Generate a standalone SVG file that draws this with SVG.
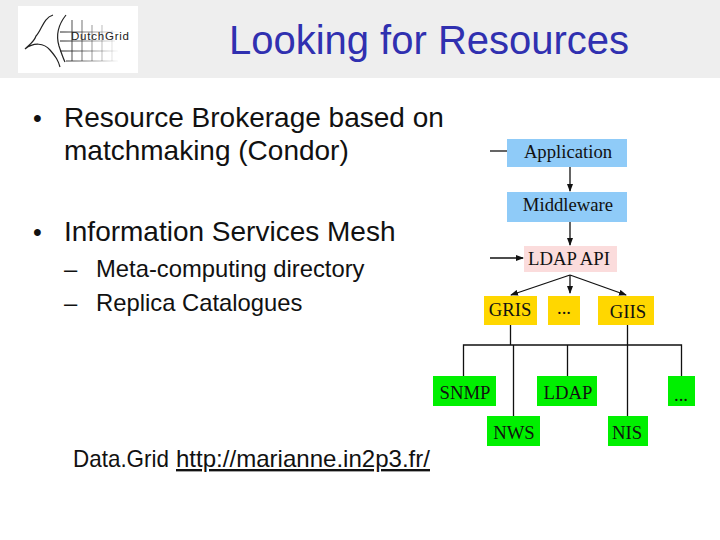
<svg xmlns="http://www.w3.org/2000/svg" width="720" height="540" viewBox="0 0 720 540">
<defs>
<marker id="a" markerWidth="8" markerHeight="6" refX="7" refY="3" orient="auto" markerUnits="userSpaceOnUse"><path d="M0 0L8 3L0 6Z" fill="#111"/></marker>
<linearGradient id="g" x1="0" x2="1" y1="0" y2="0"><stop offset="0" stop-color="#222"/><stop offset="1" stop-color="#222" stop-opacity="0"/></linearGradient>
</defs>
<style>
text{font-family:"Liberation Sans",Arial,sans-serif;fill:#111}
.s{font-size:28px}.m{font-size:23.800px}.u{font-size:25px}
.d text{font-family:"Liberation Serif","Times New Roman",serif;font-size:18.700px;text-anchor:middle;fill:#111}
.c path{fill:none;stroke:#111;stroke-width:1.3}
.b{fill:#8fcbf8}.p{fill:#fbdcdc}.y{fill:#ffd700}.n{fill:#00f000}
</style>
<rect width="720" height="540" fill="#fff"/>
<rect width="720" height="78" fill="#eeeeee"/>
<g id="logo">
<rect x="18" y="6" width="120" height="67" fill="#fff"/>
<path d="M53 15C43 18 42 30 36 36C34 42 30 44 25 49M25 49C34 42 44 43 50 50C56 57 58 60 60 67M66 15C58 25 56 36 59 46C61 52 63 58 65 62" fill="none" stroke="#222" stroke-width="1.2"/>
<path d="M60 32H120M60 41H115M60 51H118M66 61H118M72 20V61M82 20V61M92 25V61M102 25V61M112 30V61" fill="none" stroke="url(#g)" stroke-width="1"/>
<text x="71" y="40" style="font-size:11.500px;fill:#222" textLength="58">DutchGrid</text>
</g>
<text x="429" y="54" text-anchor="middle" style="font-size:40px;fill:#3030b0">Looking for Resources</text>
<g id="content">
<text x="33" y="127" class="u">•</text>
<text x="64" y="127" class="s">Resource Brokerage based on</text>
<text x="64" y="160" class="s">matchmaking (Condor)</text>
<text x="33" y="241" class="u">•</text>
<text x="64" y="241" class="s">Information Services Mesh</text>
<text x="64" y="277" class="m">–</text>
<text x="96" y="277" class="m">Meta-computing directory</text>
<text x="64" y="311" class="m">–</text>
<text x="96" y="311" class="m">Replica Catalogues</text>
<text x="73" y="467" class="m" textLength="96" lengthAdjust="spacingAndGlyphs">Data.Grid</text>
<text x="176" y="467" class="m" text-decoration="underline" textLength="254" lengthAdjust="spacingAndGlyphs">http://marianne.in2p3.fr/</text>
</g>
<g id="connectors" class="c">
<path d="M490 151H507"/>
<path d="M570 167V191" marker-end="url(#a)"/>
<path d="M570 222V245" marker-end="url(#a)"/>
<path d="M490 258H523" marker-end="url(#a)"/>
<path d="M570 275L511 295" marker-end="url(#a)"/>
<path d="M570 275V293" marker-end="url(#a)"/>
<path d="M570 275L626 295" marker-end="url(#a)"/>
<path d="M510.500 325V345M463.500 376V345H681.500V376M513.500 345V416M567.500 345V376M627.500 325V416"/>
</g>
<g class="d">
<g id="application"><rect class="b" x="507" y="139" width="120" height="28"/><text x="568" y="158">Application</text></g>
<g id="middleware"><rect class="b" x="507" y="192" width="120" height="30"/><text x="568" y="211">Middleware</text></g>
<g id="ldap-api"><rect class="p" x="524" y="246" width="93" height="26"/><text x="569" y="265">LDAP API</text></g>
<g id="gris"><rect class="y" x="484" y="296" width="53" height="29"/><text x="510" y="316">GRIS</text></g>
<g id="dots1"><rect class="y" x="548" y="296" width="32" height="29"/><text x="564" y="314">...</text></g>
<g id="giis"><rect class="y" x="598" y="296" width="56" height="29"/><text x="628" y="318">GIIS</text></g>
<g id="snmp"><rect class="n" x="433" y="376" width="63" height="30"/><text x="465" y="399">SNMP</text></g>
<g id="ldap"><rect class="n" x="537" y="376" width="60" height="30"/><text x="568" y="399">LDAP</text></g>
<g id="dots2"><rect class="n" x="668" y="376" width="27" height="30"/><text x="681" y="401">...</text></g>
<g id="nws"><rect class="n" x="487" y="416" width="53" height="30"/><text x="514" y="439">NWS</text></g>
<g id="nis"><rect class="n" x="608" y="416" width="40" height="30"/><text x="627" y="439">NIS</text></g>
</g>
</svg>
